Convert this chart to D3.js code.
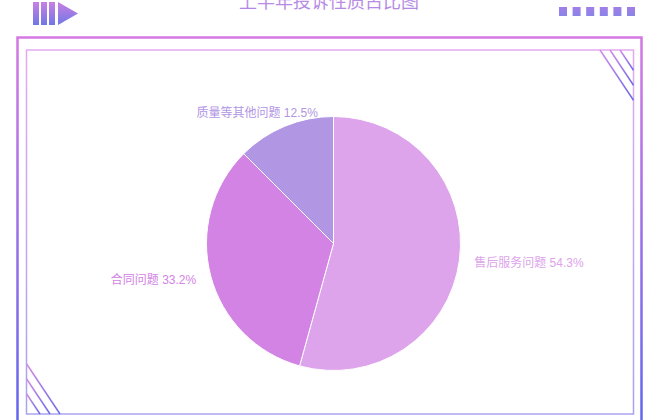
<!DOCTYPE html>
<html>
<head>
<meta charset="utf-8">
<script src="https://cdn.jsdelivr.net/npm/d3@7/dist/d3.min.js"></script>
<style>
  html, body { margin: 0; padding: 0; background: #fff; }
  svg { display: block; font-family: "Liberation Sans", "Noto Sans CJK SC", sans-serif; }
</style>
</head>
<body>
<div id="chart"></div>
<script>
// Chart data.
const title = '上半年投诉性质占比图';
const categories = ['售后服务问题', '合同问题', '质量等其他问题'];
const values = [54.3, 33.2, 12.5];
const colors = ['#dda4eb', '#d283e4', '#b196e3'];

const width = 660, height = 420;
const cx = 333.5, cy = 243.5, radius = 127;
const labelRadius = 142;

const svg = d3.select('#chart')
  .append('svg')
  .attr('width', width)
  .attr('height', height);

const defs = svg.append('defs');

// Vertical gradient helper.
function vGrad(id, top, bottom, units) {
  const g = defs.append('linearGradient')
    .attr('id', id)
    .attr('x1', 0).attr('y1', 0).attr('x2', 0).attr('y2', 1);
  if (units) {
    g.attr('gradientUnits', 'userSpaceOnUse')
      .attr('y1', units[0]).attr('y2', units[1]);
  }
  g.append('stop').attr('offset', '0%').attr('stop-color', top);
  g.append('stop').attr('offset', '100%').attr('stop-color', bottom);
}

vGrad('frameOuter', '#d578e3', '#5f66f0', [37, 430]);
vGrad('frameInner', '#e3aaf1', '#a9a3ee', [50, 414]);
vGrad('deco', '#c97fe2', '#6f78e6');
vGrad('squares', '#a27ee6', '#8a84e8');
vGrad('hatch', '#d58ae8', '#6a6ae6');
vGrad('titleFill', '#c493e6', '#ae86e2');

// -----------------------------------------------------------------
// Frame.
svg.append('rect')
  .attr('x', 17.5).attr('y', 37.5)
  .attr('width', 624).attr('height', 420)
  .attr('fill', 'none')
  .attr('stroke', 'url(#frameOuter)')
  .attr('stroke-width', 2.5);

svg.append('rect')
  .attr('x', 26.5).attr('y', 50)
  .attr('width', 607).attr('height', 364)
  .attr('fill', 'none')
  .attr('stroke', 'url(#frameInner)')
  .attr('stroke-width', 1.5);

// Corner hatching, slope 1.5.
[600, 610, 620].forEach(x0 => {
  svg.append('line')
    .attr('x1', x0).attr('y1', 50)
    .attr('x2', 633.5).attr('y2', 50 + (633.5 - x0) * 1.5)
    .attr('stroke', 'url(#hatch)')
    .attr('stroke-width', 1.5);
});
[60, 50, 40].forEach(x1 => {
  svg.append('line')
    .attr('x1', 26.5).attr('y1', 414 - (x1 - 26.5) * 1.5)
    .attr('x2', x1).attr('y2', 414)
    .attr('stroke', 'url(#hatch)')
    .attr('stroke-width', 1.5);
});

// Header decorations.
const deco = svg.append('g').attr('fill', 'url(#deco)');
[33, 41, 49].forEach(x => {
  deco.append('rect').attr('x', x).attr('y', 2).attr('width', 6).attr('height', 23);
});
deco.append('path').attr('d', 'M58,2 L78,13.5 L58,25 Z');

const sq = svg.append('g').attr('fill', 'url(#squares)');
d3.range(6).forEach(i => {
  sq.append('rect')
    .attr('x', 559 + i * 13.6).attr('y', 7)
    .attr('width', 8).attr('height', 9);
});

svg.append('text')
  .attr('x', 329).attr('y', 8)
  .attr('text-anchor', 'middle')
  .attr('font-size', 18)
  .attr('fill', 'url(#titleFill)')
  .text(title);

// -----------------------------------------------------------------
// Pie.
const pie = d3.pie().sort(null).value(d => d);
const arcs = pie(values);
const arc = d3.arc().innerRadius(0).outerRadius(radius);

const g = svg.append('g').attr('transform', `translate(${cx},${cy})`);

g.selectAll('path.slice')
  .data(arcs)
  .enter()
  .append('path')
  .attr('class', 'slice')
  .attr('d', arc)
  .attr('fill', (d, i) => colors[i])
  .attr('stroke', '#fff')
  .attr('stroke-width', 1);

g.selectAll('text.label')
  .data(arcs)
  .enter()
  .append('text')
  .attr('class', 'label')
  .each(function (d, i) {
    const a = (d.startAngle + d.endAngle) / 2;
    const dx = Math.sin(a), dy = -Math.cos(a);
    let x = dx * labelRadius;
    const y = dy * labelRadius;
    let anchor = dx < 0 ? 'end' : 'start';
    // Labels near the top are centred above the slice.
    if (Math.abs(dx) < 0.5) {
      anchor = 'middle';
      x -= 22;
    }
    d3.select(this)
      .attr('x', x)
      .attr('y', y)
      .attr('dy', '0.35em')
      .attr('text-anchor', anchor)
      .attr('font-size', 12)
      .attr('fill', colors[i])
      .text(`${categories[i]} ${values[i]}%`);
  });
</script>
</body>
</html>
